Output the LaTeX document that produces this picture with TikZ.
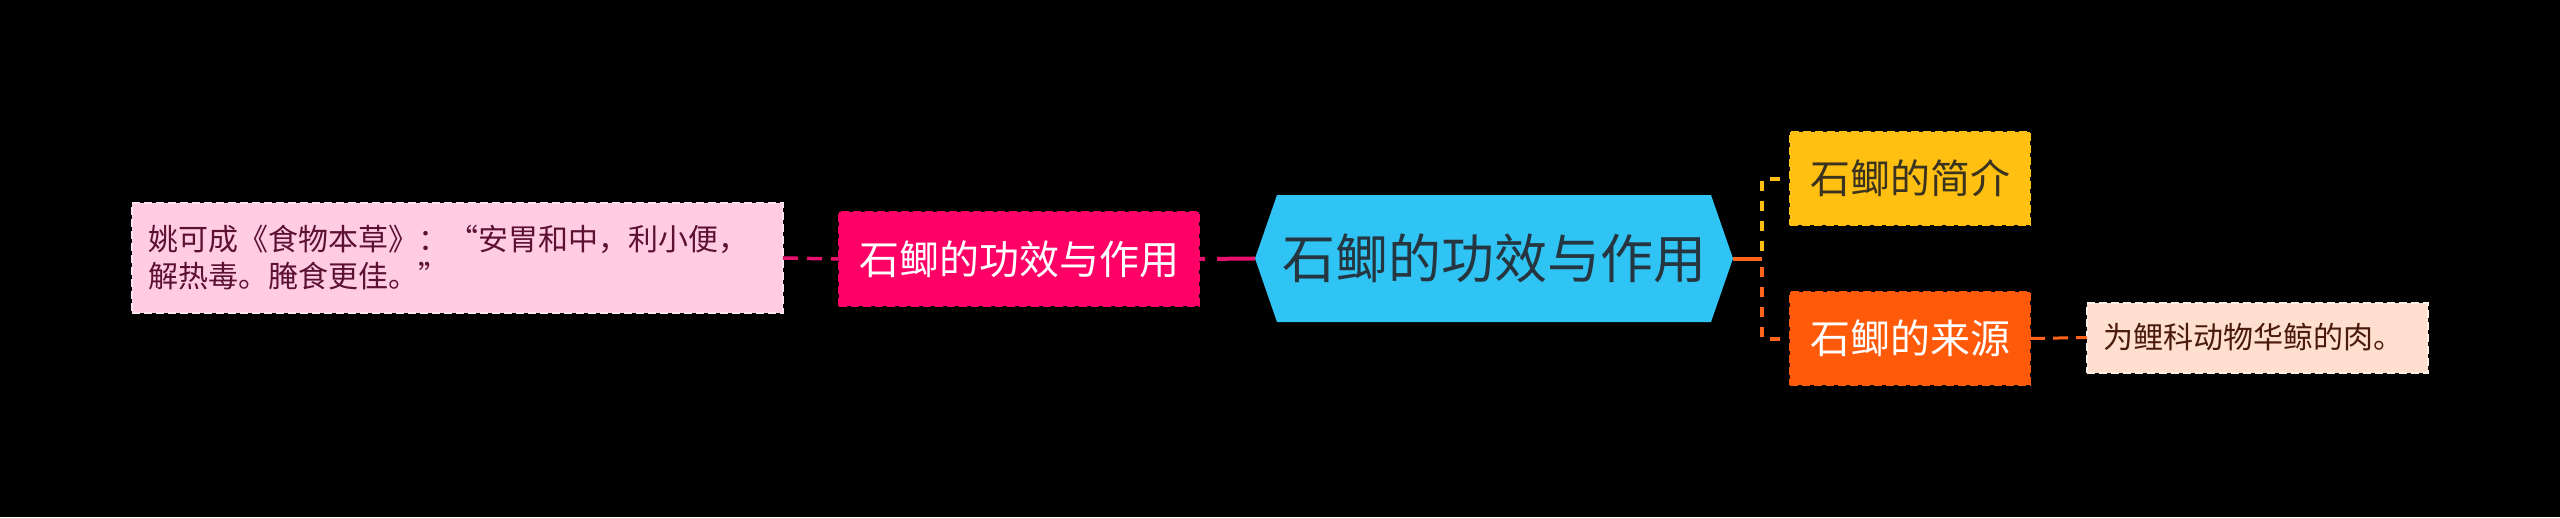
\documentclass[tikz,border=0pt]{standalone}
\usepackage{fontspec}
\setmainfont{Noto Sans CJK SC}
\usetikzlibrary{calc}
\definecolor{pinkfill}{HTML}{FFCCE1}
\definecolor{pinkline}{HTML}{FFE3EE}
\definecolor{pinktext}{HTML}{5C1133}
\definecolor{magfill}{HTML}{FF0066}
\definecolor{magline}{HTML}{E8106E}
\definecolor{hexfill}{HTML}{30C4F4}
\definecolor{hextext}{HTML}{263640}
\definecolor{yelfill}{HTML}{FFC012}
\definecolor{yeltext}{HTML}{3A3320}
\definecolor{orfill}{HTML}{FF5A0A}
\definecolor{orline}{HTML}{FF6418}
\definecolor{peachfill}{HTML}{FFDFD0}
\definecolor{peachline}{HTML}{FFF0E8}
\definecolor{peachtext}{HTML}{4A1A0C}
\pgfdeclarelayer{bg}
\pgfdeclarelayer{mid}
\pgfsetlayers{bg,mid,main}
\begin{document}
\begin{tikzpicture}[x=1pt,y=-1pt,
  box/.style={draw, line width=2pt, dash pattern=on 8pt off 4pt, inner sep=0pt, outer sep=0pt},
  notebox/.style={box, inner xsep=16pt, align=left},
  pinkbox/.style={notebox, fill=pinkfill, draw=pinkline, text=pinktext, text width=619pt, minimum height=110pt,
     font=\fontsize{30}{37}\selectfont},
  magbox/.style={box, fill=magfill, draw=magfill, text=white, minimum width=360pt, minimum height=94pt,
     font=\fontsize{40}{48}\selectfont},
  rootbox/.style={inner sep=0pt, outer sep=0pt, text=hextext, minimum width=478pt, minimum height=127pt,
     font=\fontsize{53}{64}\selectfont},
  yelbox/.style={box, fill=yelfill, draw=yelfill, text=yeltext, minimum width=240pt, minimum height=93pt,
     font=\fontsize{40}{48}\selectfont},
  orbox/.style={box, fill=orfill, draw=orfill, text=white, minimum width=240pt, minimum height=93pt,
     font=\fontsize{40}{48}\selectfont},
  peachbox/.style={notebox, fill=peachfill, draw=peachline, text=peachtext, text width=309pt, minimum height=70pt,
     font=\fontsize{30}{37}\selectfont},
  magconn/.style={draw=magline, line width=3.5pt},
  yelconn/.style={draw=yelfill, line width=4pt, dash pattern=on 10pt off 10pt, dash phase=10pt},
  orconn/.style={draw=orline, line width=4pt},
  ordash/.style={orconn, dash pattern=on 10pt off 10pt, dash phase=10pt}
]
\begin{pgfonlayer}{bg}
\fill[black] (0,0) rectangle (2560,517);
\end{pgfonlayer}
\useasboundingbox (0,0) rectangle (2560,517);

\node[pinkbox] (note1) at (457.5,258) {姚可成《食物本草》：“安胃和中，利小便，\\解热毒。腌食更佳。”};
\node[magbox] (eff) at (1019,259) {石鲫的功效与作用};
\node[rootbox] (root) at (1494,258.5) {石鲫的功效与作用};
\node[yelbox] (intro) at (1910,178.5) {石鲫的简介};
\node[orbox] (src) at (1910,338.5) {石鲫的来源};
\node[peachbox] (note2) at (2257.5,337.5) {为鲤科动物华鲸的肉。};

\begin{pgfonlayer}{mid}
\fill[hexfill] (root.west) -- ([xshift=22pt]root.north west) -- ([xshift=-22pt]root.north east)
  -- (root.east) -- ([xshift=-22pt]root.south east) -- ([xshift=22pt]root.south west) -- cycle;
\end{pgfonlayer}

\coordinate (fork) at (1762,258.5);

\draw[magconn, dash pattern=on 15pt off 9pt] (note1.east) -- (eff.west);
\draw[magconn, line width=4pt, dash pattern=on 38pt off 12pt] (root.west) -- (eff.east);
\draw[orconn] (root.east) -- (fork);
\draw[yelconn] (intro.west) -- (fork |- intro.west) -- (fork);
\draw[ordash] (src.west) -- (fork |- src.west) -- (fork);
\draw[orconn, line width=3pt, dash pattern=on 15pt off 8pt] (src.east) -- (note2.west);
\end{tikzpicture}
\end{document}
